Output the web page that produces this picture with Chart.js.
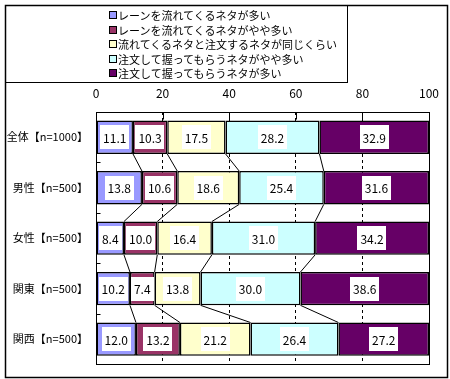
<!DOCTYPE html>
<html>
<head>
<meta charset="utf-8">
<script src="https://cdn.jsdelivr.net/npm/chart.js@4"></script>
<style>
html,body{margin:0;padding:0;background:#fff;}
#wrap{position:relative;width:450px;height:379px;overflow:hidden;}
#c{position:absolute;left:0;top:0;}
#legend{position:absolute;left:5px;top:5px;width:342px;height:77px;border-right:1px solid #000;border-bottom:1px solid #000;font-family:"Noto Sans CJK JP",sans-serif;font-size:11px;color:#000;}
.item{position:absolute;left:104px;height:14px;line-height:14px;white-space:nowrap;}
.sw{position:absolute;left:0;top:3px;width:6px;height:6px;border:1px solid #000;}
.tx{position:absolute;left:9px;top:0;}
</style>
</head>
<body>
<div id="wrap">
<canvas id="c" width="450" height="379"></canvas>
<div id="legend"></div>
</div>
<script>
const categories = ['全体【n=1000】','男性【n=500】','女性【n=500】','関東【n=500】','関西【n=500】'];
const seriesNames = [
  'レーンを流れてくるネタが多い',
  'レーンを流れてくるネタがやや多い',
  '流れてくるネタと注文するネタが同じくらい',
  '注文して握ってもらうネタがやや多い',
  '注文して握ってもらうネタが多い'
];
const laneMany      = [11.1, 13.8,  8.4, 10.2, 12.0];
const laneSomewhat  = [10.3, 10.6, 10.0,  7.4, 13.2];
const same          = [17.5, 18.6, 16.4, 13.8, 21.2];
const orderSomewhat = [28.2, 25.4, 31.0, 30.0, 26.4];
const orderMany     = [32.9, 31.6, 34.2, 38.6, 27.2];
const xTickValues   = [0, 20, 40, 60, 80, 100];

const seriesValues = [laneMany, laneSomewhat, same, orderSomewhat, orderMany];
const colors = ['#9999FF', '#993366', '#FFFFCC', '#CCFFFF', '#660066'];
const FONT = '"Noto Sans CJK JP", sans-serif';

// HTML legend
const lg = document.getElementById('legend');
const rowTops = [3, 18, 32, 47, 61];
seriesNames.forEach((name, i) => {
  const it = document.createElement('div');
  it.className = 'item';
  it.style.top = rowTops[i] + 'px';
  const sw = document.createElement('span');
  sw.className = 'sw';
  sw.style.background = colors[i];
  const tx = document.createElement('span');
  tx.className = 'tx';
  tx.textContent = name;
  it.appendChild(sw); it.appendChild(tx);
  lg.appendChild(it);
});

const overlay = {
  id: 'overlay',
  beforeDraw(chart) {
    const ctx = chart.ctx;
    ctx.save();
    ctx.fillStyle = '#fff';
    ctx.fillRect(0, 0, chart.width, chart.height);
    ctx.restore();
  },
  afterDatasetsDraw(chart) {
    const ctx = chart.ctx, a = chart.chartArea, xs = chart.scales.x;
    ctx.save();
    // series lines
    ctx.strokeStyle = '#000';
    ctx.lineWidth = 1;
    for (let d = 0; d < seriesValues.length - 1; d++) {
      const meta = chart.getDatasetMeta(d);
      for (let i = 0; i < meta.data.length - 1; i++) {
        const e0 = meta.data[i], e1 = meta.data[i + 1];
        ctx.beginPath();
        ctx.moveTo(e0.x, e0.y + e0.height / 2);
        ctx.lineTo(e1.x, e1.y - e1.height / 2);
        ctx.stroke();
      }
    }
    // plot border
    const L = Math.round(a.left) + 0.5, T = Math.round(a.top) + 0.5;
    const R = Math.round(a.right) + 0.5, B = Math.round(a.bottom) + 0.5;
    ctx.strokeRect(L, T, R - L, B - T);
    // top tick marks
    xTickValues.forEach(v => {
      const x = Math.round(xs.getPixelForValue(v)) + 0.5;
      ctx.beginPath(); ctx.moveTo(x, T); ctx.lineTo(x, T + 7); ctx.stroke();
    });
    // left tick marks at category boundaries
    const n = categories.length;
    for (let k = 0; k <= n; k++) {
      const y = Math.round(a.top + (a.bottom - a.top) * k / n) + 0.5;
      ctx.beginPath(); ctx.moveTo(L, y); ctx.lineTo(L + 4, y); ctx.stroke();
    }
    // data labels
    ctx.font = '12px ' + FONT;
    ctx.textAlign = 'center';
    ctx.textBaseline = 'middle';
    chart.data.datasets.forEach((ds, d) => {
      const meta = chart.getDatasetMeta(d);
      meta.data.forEach((e, i) => {
        const txt = ds.data[i].toFixed(1);
        const cx = (e.x + e.base) / 2, cy = e.y;
        const w = ctx.measureText(txt).width + 6, h = 24;
        ctx.fillStyle = '#fff';
        ctx.fillRect(Math.round(cx - w / 2), Math.round(cy - h / 2), Math.round(w), h);
        ctx.fillStyle = '#000';
        ctx.fillText(txt, cx, cy + 1);
      });
    });
    ctx.restore();
  },
  afterDraw(chart) {
    const ctx = chart.ctx;
    ctx.save();
    ctx.strokeStyle = '#000';
    ctx.lineWidth = 1.5;
    ctx.strokeRect(5.5, 5.5, 442, 372);
    ctx.restore();
  }
};

new Chart(document.getElementById('c'), {
  type: 'bar',
  data: {
    labels: categories,
    datasets: seriesValues.map((vals, i) => ({
      label: seriesNames[i],
      data: vals,
      backgroundColor: colors[i],
      borderColor: '#000',
      borderWidth: 1.5,
      borderSkipped: false,
      categoryPercentage: 0.66,
      barPercentage: 1
    }))
  },
  options: {
    indexAxis: 'y',
    responsive: false,
    animation: false,
    devicePixelRatio: 1,
    layout: { padding: { left: 0, top: 0, right: 17, bottom: 6 } },
    plugins: { legend: { display: false }, tooltip: { enabled: false } },
    scales: {
      x: {
        position: 'top',
        stacked: true,
        min: 0, max: 100,
        afterBuildTicks(scale) { scale.ticks = xTickValues.map(v => ({ value: v })); },
        afterFit(scale) { scale.height = 112; },
        ticks: { color: '#000', font: { family: FONT, size: 12 }, padding: 11, maxRotation: 0 },
        grid: { color: '#000', lineWidth: 1, drawTicks: false },
        border: { display: false, dash: [3, 3] }
      },
      y: {
        stacked: true,
        afterFit(scale) { scale.width = 96; },
        ticks: { color: '#000', font: { family: FONT, size: 11 }, padding: 8 },
        grid: { display: false, drawTicks: false },
        border: { display: false }
      }
    }
  },
  plugins: [overlay]
});
</script>
</body>
</html>
